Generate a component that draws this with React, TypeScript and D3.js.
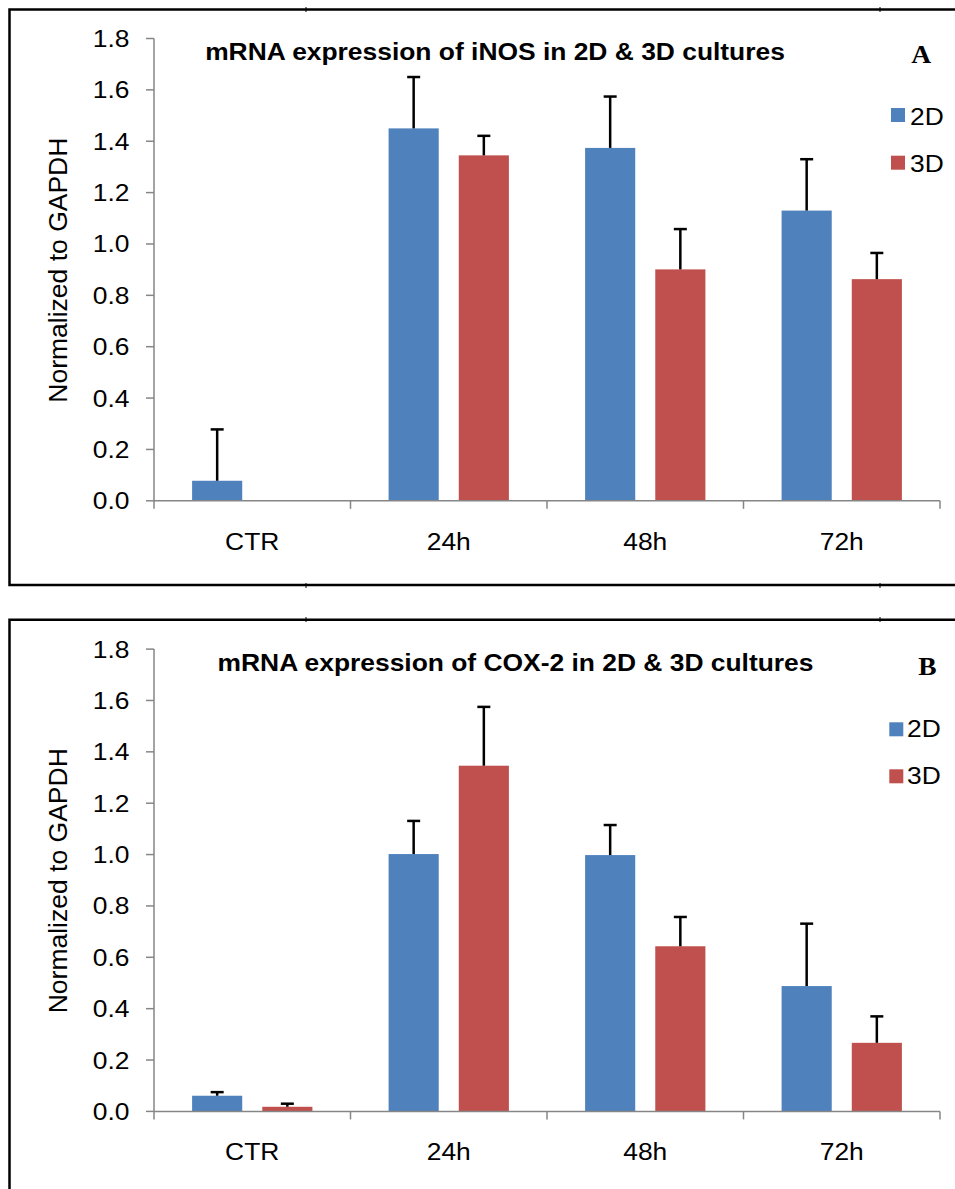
import React from 'react';
import * as d3 from 'd3';

const categories = ['CTR', '24h', '48h', '72h'];
const seriesNames = ['2D', '3D'];
const yTicks = [0, 0.2, 0.4, 0.6, 0.8, 1.0, 1.2, 1.4, 1.6, 1.8];

const iNOS_2D = [0.078, 1.45, 1.374, 1.13];
const iNOS_2D_err = [0.2, 0.2, 0.2, 0.2];
const iNOS_3D = [0, 1.345, 0.901, 0.863];
const iNOS_3D_err = [0, 0.076, 0.157, 0.102];

const cox2_2D = [0.061, 1.002, 0.998, 0.488];
const cox2_2D_err = [0.014, 0.129, 0.117, 0.243];
const cox2_3D = [0.018, 1.346, 0.643, 0.267];
const cox2_3D_err = [0.012, 0.229, 0.114, 0.103];

const COLORS = ['#4F81BD', '#C0504D'];
const AXIS = '#868686';
const FONT = "'Liberation Sans', Arial, sans-serif";
const SX = 1.1;

type PanelProps = {
  top: number;
  title: string;
  letter: string;
  values: number[][];
  errors: number[][];
  titleX: number;
  letterX: number;
  letterY: number;
  legendX: number;
  legendTextX: number;
  legendRectY: number[];
  legendTextY: number[];
};

function Panel(p: PanelProps) {
  const { top } = p;
  const x = d3.scaleBand<string>().domain(categories).range([154, 940]).padding(0);
  const xs = d3
    .scaleBand<string>()
    .domain(seriesNames)
    .range([0, x.bandwidth()])
    .paddingInner(2 / 7)
    .paddingOuter(0.543);
  const y = d3.scaleLinear().domain([0, 1.8]).range([top + 500.8, top + 38.5]);
  const boundaries = categories.map((c) => x(c) as number).concat([x.range()[1]]);

  return (
    <g>
      {/* title */}
      <text
        transform={`translate(${p.titleX},${top + 60}) scale(${SX},1)`}
        textAnchor="middle"
        fontFamily={FONT}
        fontWeight="bold"
        fontSize={24}
        fill="#000"
      >
        {p.title}
      </text>
      {/* panel letter */}
      <text
        transform={`translate(${p.letterX},${p.letterY}) scale(${SX},1)`}
        textAnchor="middle"
        fontFamily="'Liberation Serif', 'Times New Roman', serif"
        fontWeight="bold"
        fontSize={25}
        fill="#000"
      >
        {p.letter}
      </text>
      {/* y axis label */}
      <text
        transform={`translate(67,${(y(0) + y(1.8)) / 2 + 0.5}) rotate(-90)`}
        textAnchor="middle"
        fontFamily={FONT}
        fontSize={26.5}
        fill="#000"
      >
        Normalized to GAPDH
      </text>
      {/* y axis */}
      <line x1={154} x2={154} y1={y(1.8)} y2={y(0)} stroke={AXIS} strokeWidth={1.5} />
      {yTicks.map((t) => (
        <g key={t}>
          <line x1={146} x2={154} y1={y(t)} y2={y(t)} stroke={AXIS} strokeWidth={1.5} />
          <text
            transform={`translate(129.5,${y(t) + 8.5}) scale(${SX},1)`}
            textAnchor="end"
            fontFamily={FONT}
            fontSize={24}
            fill="#000"
          >
            {d3.format('.1f')(t)}
          </text>
        </g>
      ))}
      {/* bars */}
      {seriesNames.map((s, si) =>
        categories.map((c, ci) => {
          const v = p.values[si][ci];
          if (!v) return null;
          const bx = (x(c) as number) + (xs(s) as number);
          const bw = xs.bandwidth();
          return (
            <rect
              key={s + c}
              x={bx}
              y={y(v)}
              width={bw}
              height={y(0) - y(v)}
              fill={COLORS[si]}
            />
          );
        })
      )}
      {/* x axis */}
      <line x1={154} x2={940} y1={y(0)} y2={y(0)} stroke={AXIS} strokeWidth={1.5} />
      {boundaries.map((b, i) => (
        <line key={i} x1={b} x2={b} y1={y(0)} y2={y(0) + 8} stroke={AXIS} strokeWidth={1.5} />
      ))}
      {categories.map((c) => (
        <text
          key={c}
          transform={`translate(${(x(c) as number) + x.bandwidth() / 2},${y(0) + 49}) scale(${SX},1)`}
          textAnchor="middle"
          fontFamily={FONT}
          fontSize={24}
          fill="#000"
        >
          {c}
        </text>
      ))}
      {/* error bars */}
      {seriesNames.map((s, si) =>
        categories.map((c, ci) => {
          const v = p.values[si][ci];
          const e = p.errors[si][ci];
          if (!v || !e) return null;
          const cx = (x(c) as number) + (xs(s) as number) + xs.bandwidth() / 2;
          return (
            <g key={'e' + s + c} stroke="#000" strokeWidth={2.5}>
              <line x1={cx} x2={cx} y1={y(v)} y2={y(v + e)} />
              <line x1={cx - 6.5} x2={cx + 6.5} y1={y(v + e)} y2={y(v + e)} />
            </g>
          );
        })
      )}
      {/* legend */}
      {seriesNames.map((s, si) => (
        <g key={'l' + s}>
          <rect x={p.legendX} y={p.legendRectY[si]} width={14} height={14} fill={COLORS[si]} />
          <text
            transform={`translate(${p.legendTextX},${p.legendTextY[si]}) scale(${SX},1)`}
            fontFamily={FONT}
            fontSize={24}
            fill="#000"
          >
            {s}
          </text>
        </g>
      ))}
    </g>
  );
}

export default function App() {
  return (
    <svg
      width={955}
      height={1189}
      style={{ position: 'absolute', left: 0, top: 0, background: '#fff' }}
    >
      <rect x={0} y={0} width={955} height={1189} fill="#fff" />
      {/* panel frames */}
      <g stroke="#000" strokeWidth={2.5} fill="none">
        <polyline points="955,9.5 9.5,9.5 9.5,585 955,585" />
        <polyline points="955,619.7 9.5,619.7 9.5,1189" />
      </g>
      <g stroke="#000" strokeWidth={1}>
        <line x1={306} x2={306} y1={7} y2={12} />
        <line x1={880} x2={880} y1={7} y2={12} />
        <line x1={306} x2={306} y1={583} y2={588} />
        <line x1={880} x2={880} y1={583} y2={588} />
        <line x1={306} x2={306} y1={617} y2={622} />
        <line x1={880} x2={880} y1={617} y2={622} />
      </g>
      <Panel
        top={0}
        title="mRNA expression of iNOS in 2D & 3D cultures"
        letter="A"
        values={[iNOS_2D, iNOS_3D]}
        errors={[iNOS_2D_err, iNOS_3D_err]}
        titleX={495}
        letterX={921.2}
        letterY={63}
        legendX={891}
        legendTextX={910}
        legendRectY={[108, 155.7]}
        legendTextY={[124.8, 171.7]}
      />
      <Panel
        top={610.6}
        title="mRNA expression of COX-2 in 2D & 3D cultures"
        letter="B"
        values={[cox2_2D, cox2_3D]}
        errors={[cox2_2D_err, cox2_3D_err]}
        titleX={515.5}
        letterX={927.5}
        letterY={675}
        legendX={889.3}
        legendTextX={907}
        legendRectY={[722.3, 769.3]}
        legendTextY={[737.3, 784.3]}
      />
    </svg>
  );
}
